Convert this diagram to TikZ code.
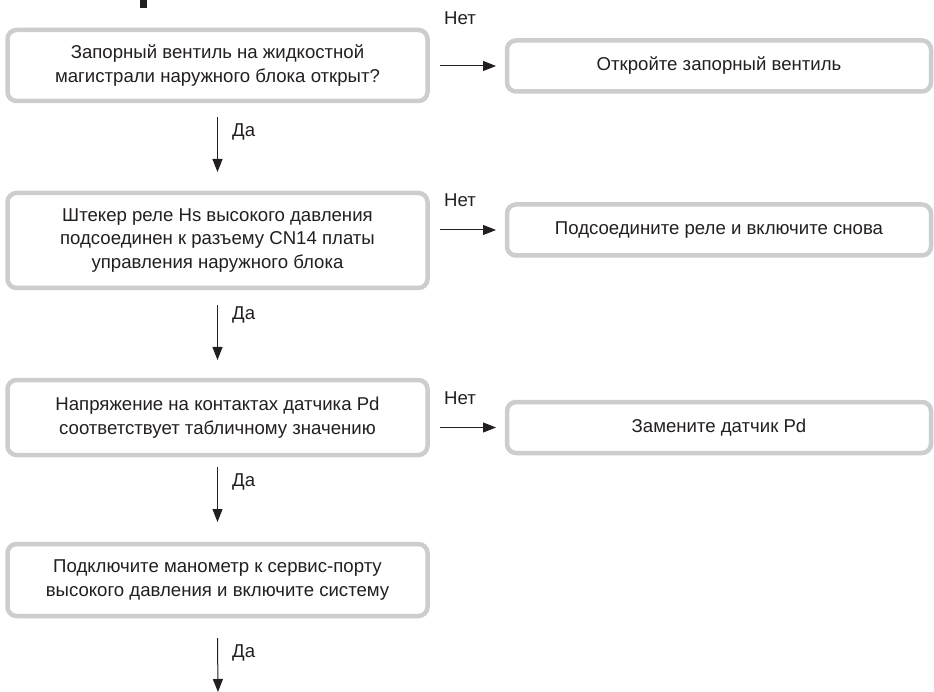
\documentclass[tikz,border=0pt]{standalone}
\usepackage{fontspec}
\setmainfont{Liberation Sans}
\usetikzlibrary{arrows.meta}
\definecolor{ink}{HTML}{231F20}
\definecolor{frame}{HTML}{CDCDCF}
\begin{document}
\begin{tikzpicture}[x=1pt,y=-1pt,
  every node/.style={font=\fontsize{18.6}{23.5}\selectfont, text=ink},
  box/.style={draw=frame, line width=4.5pt, rounded corners=9pt, fill=white,
    minimum width=420pt, outer sep=0pt, align=center, inner sep=0pt},
  rbox/.style={draw=frame, line width=4.5pt, rounded corners=9pt, fill=white,
    minimum width=424pt, minimum height=51pt, outer sep=0pt, align=center, inner sep=0pt},
  arr/.style={draw=ink, line width=1pt, -{Triangle[length=13pt,width=10pt]}},
  lbl/.style={anchor=west, inner sep=0pt}
]
\useasboundingbox (0,0) rectangle (934,692);
\fill[ink] (140,0) rectangle (146.5,8);

\node[box, minimum height=71pt] (b1) at (217.5,65.5)
  {Запорный вентиль на жидкостной\\магистрали наружного блока открыт?};
\node[box, minimum height=95pt] (b2) at (217.5,240.5)
  {Штекер реле Hs высокого давления\\подсоединен к разъему CN14 платы\\управления наружного блока};
\node[box, minimum height=75pt] (b3) at (217.5,417.5)
  {Напряжение на контактах датчика Pd\\соответствует табличному значению};
\node[box, minimum height=72pt] (b4) at (217.5,580)
  {Подключите манометр к сервис-порту\\высокого давления и включите систему};

\node[rbox] (r1) at (719,66) {Откройте запорный вентиль};
\node[rbox] (r2) at (719,230) {Подсоедините реле и включите снова};
\node[rbox] (r3) at (719,427.5) {Замените датчик Pd};

\coordinate (end) at (218,692);

\draw[arr] ([yshift=-16pt]b1.south) -- ([yshift=21pt]b2.north);
\draw[arr] ([yshift=-17pt]b2.south) -- ([yshift=20pt]b3.north);
\draw[arr] ([yshift=-12pt]b3.south) -- ([yshift=22pt]b4.north);
\draw[arr] ([yshift=-22pt]b4.south) -- (end);

\draw[arr] ([xshift=12.5pt]b1.east |- r1.west) -- ([xshift=-11pt]r1.west);
\draw[arr] ([xshift=12.5pt]b2.east |- r2.west) -- ([xshift=-11pt]r2.west);
\draw[arr] ([xshift=12.5pt]b3.east |- r3.west) -- ([xshift=-11pt]r3.west);

\node[lbl] (n1) at (444,18) {Нет};
\node[lbl] (n2) at (444,200) {Нет};
\node[lbl] (n3) at (444,398) {Нет};

\node[lbl] (d1) at (232,132) {Да};
\node[lbl] (d2) at (232,315) {Да};
\node[lbl] (d3) at (232,482) {Да};
\node[lbl] (d4) at (232,653) {Да};
\end{tikzpicture}
\end{document}
